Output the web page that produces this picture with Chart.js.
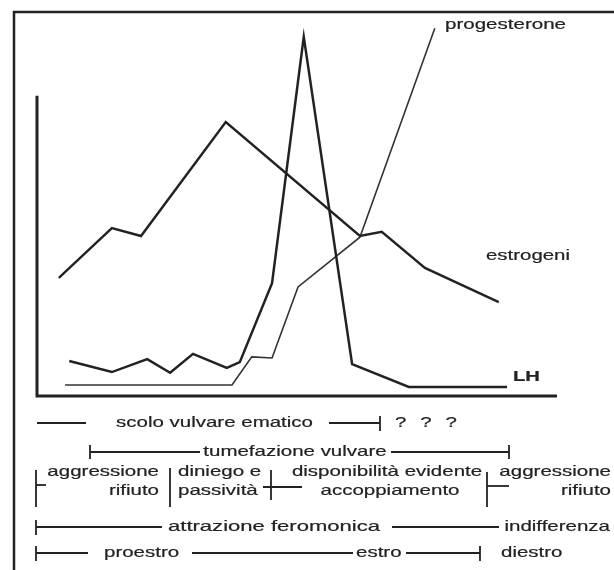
<!DOCTYPE html>
<html>
<head>
<meta charset="utf-8">
<script src="https://cdn.jsdelivr.net/npm/chart.js"></script>
<style>
  html, body { margin: 0; padding: 0; background: #fff; }
  #wrap { width: 614px; height: 570px; }
</style>
</head>
<body>
<div id="wrap"><canvas id="cycleChart" width="614" height="570"></canvas></div>
<script>
// Andamento ormonale nel ciclo estrale (unita' arbitrarie)
const estrogenDays = [4.2, 14.4, 20, 36.3, 62.1, 66.3, 74.6, 88.8];
const estrogenLevels = [31.1, 44.2, 42.1, 72.1, 42.1, 43.2, 33.7, 24.7];

const lhDays = [6.2, 14.4, 21.2, 25.6, 30, 36.5, 39, 45.2, 51.3, 60.6, 71.5, 90.4];
const lhLevels = [9.2, 6.3, 9.7, 6.1, 11.1, 7.4, 8.9, 29.7, 94.5, 8.4, 2.4, 2.4];

const progDays = [5.4, 37.5, 41.3, 45.2, 50.2, 62.1, 76.5];
const progLevels = [2.9, 2.9, 10.3, 10, 28.7, 41.8, 96.8];

const seriesNames = ['estrogeni', 'LH', 'progesterone'];

// Texts of the timeline under the chart
const signLabels = ['scolo vulvare ematico', '? ? ?', 'tumefazione vulvare'];
const behaviourLabels = [
    ['aggressione', 'rifiuto'],
    ['diniego e', 'passività'],
    ['disponibilità evidente', 'accoppiamento'],
    ['aggressione', 'rifiuto']
];
const attractionLabels = ['attrazione feromonica', 'indifferenza'];
const phaseLabels = ['proestro', 'estro', 'diestro'];

const INK = '#222';
const FONT = '15px "Liberation Sans", Arial, sans-serif';

function toPoints(xs, ys) {
    return xs.map((x, i) => ({ x: x, y: ys[i] }));
}

// the scanned lettering has its own width: stretch every text the same way
let stretch = 1;

function label(ctx, text, x, y, align) {
    const w = ctx.measureText(text).width * stretch;
    let left = x;
    if (align === 'right') left = x - w;
    else if (align === 'center') left = x - w / 2;
    ctx.save();
    ctx.translate(left, y);
    ctx.scale(stretch, 1);
    ctx.fillText(text, 0, 0);
    ctx.lineWidth = 0.2;
    ctx.strokeText(text, 0, 0);
    ctx.restore();
}

// some texts are spread wider: fit them between two x positions
function fitText(ctx, text, x1, x2, y) {
    const w = ctx.measureText(text).width;
    ctx.save();
    ctx.translate(x1, y);
    ctx.scale((x2 - x1) / w, 1);
    ctx.fillText(text, 0, 0);
    ctx.lineWidth = 0.2;
    ctx.strokeText(text, 0, 0);
    ctx.restore();
}

function seg(ctx, x1, y1, x2, y2) {
    ctx.beginPath();
    ctx.moveTo(x1, y1);
    ctx.lineTo(x2, y2);
    ctx.stroke();
}

const cycleOverlay = {
    id: 'cycleOverlay',
    afterDraw(chart) {
        const ctx = chart.ctx;
        const area = chart.chartArea;
        const yScale = chart.scales.y;

        ctx.save();
        ctx.strokeStyle = INK;
        ctx.fillStyle = INK;
        ctx.lineCap = 'butt';

        // frame of the figure
        ctx.lineWidth = 2.5;
        ctx.beginPath();
        ctx.moveTo(14, 570);
        ctx.lineTo(14, 12);
        ctx.lineTo(614, 12);
        ctx.stroke();

        // axes
        ctx.lineWidth = 3;
        ctx.beginPath();
        ctx.moveTo(area.left, yScale.getPixelForValue(79));
        ctx.lineTo(area.left, area.bottom);
        ctx.lineTo(area.right, area.bottom);
        ctx.stroke();

        ctx.font = FONT;
        ctx.textBaseline = 'middle';
        ctx.textAlign = 'left';
        stretch = 197 / ctx.measureText(signLabels[0]).width;

        // curve names
        fitText(ctx, seriesNames[2], 445, 566, 25);
        fitText(ctx, seriesNames[0], 486, 570, 256);
        ctx.font = 'bold ' + FONT;
        fitText(ctx, seriesNames[1], 513, 540, 377);
        ctx.font = FONT;

        // timeline
        ctx.lineWidth = 1.8;
        // row 1
        seg(ctx, 37, 423, 86, 423);
        label(ctx, signLabels[0], 116, 423, 'left');
        seg(ctx, 329, 423, 380, 423);
        seg(ctx, 380, 416, 380, 431);
        ctx.letterSpacing = '3px';
        label(ctx, signLabels[1], 395, 423, 'left');
        ctx.letterSpacing = '0px';

        // row 2
        seg(ctx, 90, 445, 90, 459);
        seg(ctx, 90, 452, 200, 452);
        label(ctx, signLabels[2], 295, 452, 'center');
        seg(ctx, 391, 452, 509, 452);
        seg(ctx, 509, 445, 509, 459);

        // row 3
        seg(ctx, 36, 470, 36, 507);
        seg(ctx, 36, 485, 46, 485);
        label(ctx, behaviourLabels[0][0], 159, 472, 'right');
        label(ctx, behaviourLabels[0][1], 159, 491, 'right');
        seg(ctx, 170, 468, 170, 507);
        label(ctx, behaviourLabels[1][0], 178, 472, 'left');
        label(ctx, behaviourLabels[1][1], 178, 491, 'left');
        seg(ctx, 271, 470, 271, 500);
        seg(ctx, 263, 487, 302, 487);
        label(ctx, behaviourLabels[2][0], 387, 472, 'center');
        label(ctx, behaviourLabels[2][1], 390, 491, 'center');
        seg(ctx, 487, 472, 487, 507);
        seg(ctx, 487, 486, 509, 486);
        label(ctx, behaviourLabels[3][0], 611, 472, 'right');
        label(ctx, behaviourLabels[3][1], 611, 491, 'right');

        // row 4
        seg(ctx, 36, 520, 36, 535);
        seg(ctx, 36, 527, 162, 527);
        fitText(ctx, attractionLabels[0], 168, 380, 527);
        seg(ctx, 392, 527, 499, 527);
        label(ctx, attractionLabels[1], 610, 527, 'right');

        // row 5
        seg(ctx, 36, 546, 36, 561);
        seg(ctx, 36, 553, 88, 553);
        label(ctx, phaseLabels[0], 104, 553, 'left');
        seg(ctx, 192, 553, 353, 553);
        label(ctx, phaseLabels[1], 356, 553, 'left');
        seg(ctx, 406, 553, 480, 553);
        seg(ctx, 480, 546, 480, 561);
        label(ctx, phaseLabels[2], 501, 553, 'left');

        ctx.restore();
    }
};

const ctx = document.getElementById('cycleChart').getContext('2d');
new Chart(ctx, {
    type: 'line',
    data: {
        datasets: [
            {
                label: seriesNames[0],
                data: toPoints(estrogenDays, estrogenLevels),
                borderColor: INK,
                borderWidth: 2.4
            },
            {
                label: seriesNames[1],
                data: toPoints(lhDays, lhLevels),
                borderColor: INK,
                borderWidth: 2.5
            },
            {
                label: seriesNames[2],
                data: toPoints(progDays, progLevels),
                borderColor: '#333',
                borderWidth: 1.6
            }
        ]
    },
    options: {
        responsive: false,
        animation: false,
        devicePixelRatio: 1,
        layout: { padding: { left: 37, right: 57, top: 16, bottom: 174 } },
        scales: {
            x: { type: 'linear', min: 0, max: 100, display: false },
            y: { min: 0, max: 100, display: false }
        },
        elements: {
            point: { radius: 0 },
            line: { tension: 0, fill: false }
        },
        plugins: {
            legend: { display: false },
            tooltip: { enabled: false }
        }
    },
    plugins: [cycleOverlay]
});
</script>
</body>
</html>
